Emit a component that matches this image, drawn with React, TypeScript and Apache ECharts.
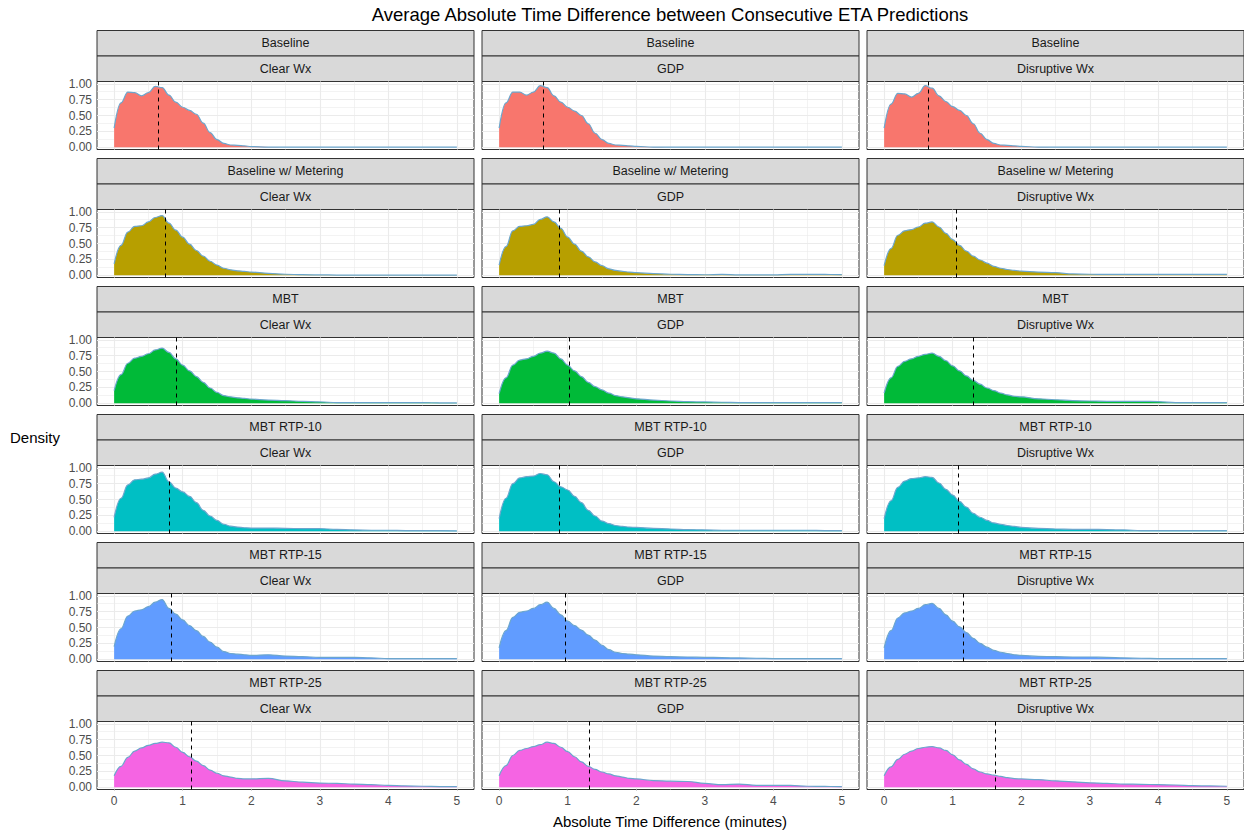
import React, { useEffect, useRef } from "react";
import * as echarts from "echarts";

// x grid (minutes)
const xs = [0, 0.1, 0.2, 0.3, 0.4, 0.5, 0.6, 0.7, 0.8, 0.9, 1.0, 1.1, 1.2, 1.3, 1.4, 1.5, 1.6, 1.7, 1.8, 1.9, 2.0, 2.25, 2.5, 2.75, 3.0, 3.25, 3.5, 3.75, 4.0, 4.25, 4.5, 4.75, 5.0];

const baselineClear = [0.30, 0.70, 0.87, 0.86, 0.81, 0.86, 0.96, 0.94, 0.82, 0.71, 0.63, 0.58, 0.52, 0.38, 0.23, 0.12, 0.06, 0.035, 0.03, 0.02, 0.01, 0.003, 0, 0, 0, 0, 0, 0, 0, 0, 0, 0, 0];
const baselineGDP = [0.30, 0.70, 0.87, 0.87, 0.82, 0.87, 0.97, 0.94, 0.81, 0.71, 0.63, 0.57, 0.50, 0.37, 0.22, 0.12, 0.06, 0.035, 0.03, 0.02, 0.012, 0.003, 0, 0, 0, 0, 0, 0, 0, 0, 0, 0, 0];
const baselineDisr = [0.30, 0.68, 0.85, 0.84, 0.79, 0.85, 0.97, 0.93, 0.81, 0.72, 0.64, 0.58, 0.50, 0.37, 0.22, 0.12, 0.06, 0.035, 0.03, 0.02, 0.012, 0.003, 0, 0, 0, 0, 0, 0, 0, 0, 0, 0, 0];

const meteringClear = [0.18, 0.47, 0.68, 0.77, 0.78, 0.84, 0.91, 0.94, 0.82, 0.71, 0.60, 0.49, 0.39, 0.30, 0.22, 0.16, 0.11, 0.085, 0.07, 0.06, 0.05, 0.03, 0.015, 0.008, 0.005, 0.003, 0.002, 0.002, 0.002, 0.002, 0.002, 0.002, 0.002];
const meteringGDP = [0.16, 0.45, 0.70, 0.77, 0.78, 0.80, 0.88, 0.92, 0.84, 0.74, 0.60, 0.49, 0.38, 0.29, 0.21, 0.15, 0.10, 0.075, 0.06, 0.05, 0.04, 0.025, 0.015, 0.01, 0.007, 0.013, 0.005, 0.004, 0.005, 0.012, 0.012, 0.012, 0.01];
const meteringDisr = [0.15, 0.42, 0.63, 0.70, 0.72, 0.76, 0.82, 0.84, 0.76, 0.66, 0.56, 0.47, 0.38, 0.30, 0.24, 0.19, 0.14, 0.11, 0.09, 0.075, 0.065, 0.05, 0.04, 0.02, 0.015, 0.012, 0.012, 0.012, 0.012, 0.012, 0.012, 0.012, 0.012];

const mbtClear = [0.20, 0.45, 0.63, 0.71, 0.74, 0.78, 0.84, 0.87, 0.80, 0.70, 0.60, 0.51, 0.42, 0.33, 0.24, 0.17, 0.12, 0.10, 0.085, 0.075, 0.065, 0.05, 0.04, 0.03, 0.02, 0.01, 0.01, 0.01, 0.01, 0.01, 0.01, 0.005, 0.005];
const mbtGDP = [0.15, 0.40, 0.60, 0.68, 0.70, 0.74, 0.79, 0.82, 0.79, 0.70, 0.60, 0.51, 0.42, 0.33, 0.26, 0.21, 0.16, 0.12, 0.10, 0.085, 0.07, 0.05, 0.035, 0.025, 0.02, 0.015, 0.01, 0.01, 0.01, 0.01, 0.01, 0.01, 0.01];
const mbtDisr = [0.16, 0.40, 0.58, 0.66, 0.70, 0.74, 0.77, 0.79, 0.74, 0.67, 0.59, 0.51, 0.43, 0.36, 0.30, 0.24, 0.20, 0.16, 0.13, 0.11, 0.10, 0.07, 0.055, 0.04, 0.035, 0.03, 0.03, 0.03, 0.025, 0.01, 0.01, 0.01, 0.01];

const rtp10Clear = [0.22, 0.52, 0.73, 0.81, 0.82, 0.84, 0.90, 0.93, 0.78, 0.68, 0.62, 0.55, 0.45, 0.33, 0.24, 0.17, 0.11, 0.08, 0.065, 0.055, 0.05, 0.05, 0.045, 0.04, 0.04, 0.03, 0.02, 0.015, 0.015, 0.01, 0.01, 0.01, 0.005];
const rtp10GDP = [0.20, 0.52, 0.75, 0.84, 0.86, 0.87, 0.91, 0.89, 0.78, 0.70, 0.65, 0.55, 0.45, 0.33, 0.24, 0.16, 0.12, 0.09, 0.075, 0.065, 0.06, 0.045, 0.035, 0.026, 0.02, 0.015, 0.015, 0.015, 0.015, 0.015, 0.015, 0.01, 0.01];
const rtp10Disr = [0.20, 0.48, 0.69, 0.79, 0.83, 0.84, 0.86, 0.85, 0.76, 0.66, 0.57, 0.47, 0.38, 0.28, 0.22, 0.17, 0.13, 0.11, 0.09, 0.075, 0.06, 0.045, 0.035, 0.03, 0.03, 0.025, 0.02, 0.01, 0.01, 0.01, 0.01, 0.01, 0.01];

const rtp15Clear = [0.20, 0.48, 0.68, 0.76, 0.78, 0.83, 0.90, 0.94, 0.80, 0.71, 0.62, 0.53, 0.45, 0.36, 0.27, 0.19, 0.12, 0.09, 0.08, 0.07, 0.06, 0.07, 0.05, 0.04, 0.03, 0.03, 0.03, 0.02, 0.01, 0.01, 0.01, 0.01, 0.01];
const rtp15GDP = [0.18, 0.45, 0.66, 0.74, 0.76, 0.80, 0.86, 0.90, 0.80, 0.70, 0.60, 0.53, 0.46, 0.38, 0.30, 0.22, 0.15, 0.11, 0.09, 0.08, 0.07, 0.05, 0.04, 0.035, 0.03, 0.025, 0.02, 0.015, 0.01, 0.01, 0.01, 0.01, 0.01];
const rtp15Disr = [0.18, 0.45, 0.65, 0.73, 0.76, 0.80, 0.86, 0.88, 0.80, 0.70, 0.60, 0.51, 0.42, 0.33, 0.25, 0.19, 0.14, 0.11, 0.09, 0.07, 0.06, 0.045, 0.04, 0.035, 0.035, 0.03, 0.02, 0.015, 0.01, 0.01, 0.01, 0.01, 0.01];

const rtp25Clear = [0.18, 0.33, 0.47, 0.57, 0.62, 0.66, 0.69, 0.71, 0.70, 0.63, 0.55, 0.48, 0.41, 0.34, 0.27, 0.22, 0.18, 0.16, 0.14, 0.13, 0.13, 0.14, 0.10, 0.08, 0.065, 0.06, 0.05, 0.04, 0.03, 0.02, 0.015, 0.01, 0.01];
const rtp25GDP = [0.18, 0.34, 0.50, 0.58, 0.61, 0.64, 0.67, 0.71, 0.69, 0.63, 0.56, 0.48, 0.40, 0.33, 0.28, 0.24, 0.21, 0.18, 0.16, 0.14, 0.13, 0.105, 0.095, 0.09, 0.06, 0.04, 0.05, 0.03, 0.03, 0.03, 0.015, 0.012, 0.01];
const rtp25Disr = [0.18, 0.32, 0.44, 0.52, 0.57, 0.61, 0.63, 0.64, 0.62, 0.58, 0.51, 0.43, 0.36, 0.29, 0.24, 0.21, 0.19, 0.17, 0.15, 0.135, 0.13, 0.12, 0.10, 0.085, 0.07, 0.06, 0.05, 0.045, 0.04, 0.035, 0.025, 0.02, 0.015];

const rowLabels = ["Baseline", "Baseline w/ Metering", "MBT", "MBT RTP-10", "MBT RTP-15", "MBT RTP-25"];
const colLabels = ["Clear Wx", "GDP", "Disruptive Wx"];
const densities = [
  [baselineClear, baselineGDP, baselineDisr],
  [meteringClear, meteringGDP, meteringDisr],
  [mbtClear, mbtGDP, mbtDisr],
  [rtp10Clear, rtp10GDP, rtp10Disr],
  [rtp15Clear, rtp15GDP, rtp15Disr],
  [rtp25Clear, rtp25GDP, rtp25Disr],
];
const means = [
  [0.65, 0.64, 0.645],
  [0.75, 0.87, 1.05],
  [0.90, 1.02, 1.30],
  [0.81, 0.87, 1.08],
  [0.84, 0.96, 1.16],
  [1.12, 1.31, 1.62],
];
const fillColors = ["#F8766D", "#B79F00", "#00BA38", "#00BFC4", "#619CFF", "#F564E3"];
const xTicks = [0, 1, 2, 3, 4, 5];
const xMinor = [0.5, 1.5, 2.5, 3.5, 4.5];
const yTicks = [0, 0.25, 0.5, 0.75, 1];
const yMinor = [0.125, 0.375, 0.625, 0.875];

const FONT = "'Liberation Sans', Arial, sans-serif";

export default function App() {
  const ref = useRef<HTMLDivElement>(null);
  useEffect(() => {
    document.body.style.margin = "0";
    const chart = echarts.init(ref.current!, null, { renderer: "svg" });
    const colLeft = [97, 482, 867];
    const panelW = 377;
    const stripH = 25.5;
    const plotH = 68;
    const rowTop = (r: number) => 30.5 + r * 128;

    const grids: any[] = [];
    const xAxes: any[] = [];
    const yAxes: any[] = [];
    const series: any[] = [];
    const graphics: any[] = [];

    for (let r = 0; r < 6; r++) {
      for (let c = 0; c < 3; c++) {
        const p = r * 3 + c;
        const T = rowTop(r);
        const L = colLeft[c];
        grids.push({
          left: L, top: T + 2 * stripH, width: panelW, height: plotH,
          show: true, borderColor: "#333333", borderWidth: 1, backgroundColor: "#ffffff",
        });
        xAxes.push({
          type: "value", gridIndex: p, min: -0.25, max: 5.25,
          axisLine: { show: false },
          splitLine: { show: false },
          axisTick: { show: r === 5, customValues: xTicks, length: 3, lineStyle: { color: "#333333" } },
          axisLabel: {
            show: r === 5, customValues: xTicks, color: "#4d4d4d", fontSize: 12, fontFamily: FONT, margin: 5,
            formatter: (v: number) => String(v),
          },
        });
        yAxes.push({
          type: "value", gridIndex: p, min: -0.036, max: 1.036,
          axisLine: { show: false },
          splitLine: { show: false },
          axisTick: { show: c === 0, customValues: yTicks, length: 3, lineStyle: { color: "#333333" } },
          axisLabel: {
            show: c === 0, customValues: yTicks, color: "#4d4d4d", fontSize: 12, fontFamily: FONT, margin: 5,
            formatter: (v: number) => v.toFixed(2),
          },
        });
        const data = xs.map((x, i) => [x, densities[r][c][i]]);
        const gridData: any[] = [];
        xTicks.forEach((v) => gridData.push({ xAxis: v, lineStyle: { width: 1.1 } }));
        xMinor.forEach((v) => gridData.push({ xAxis: v, lineStyle: { width: 0.6 } }));
        yTicks.forEach((v) => gridData.push({ yAxis: v, lineStyle: { width: 1.1 } }));
        yMinor.forEach((v) => gridData.push({ yAxis: v, lineStyle: { width: 0.6 } }));
        series.push({
          type: "line", xAxisIndex: p, yAxisIndex: p, data, z: 1, silent: true,
          showSymbol: false, lineStyle: { opacity: 0 },
          markLine: {
            z: 1, silent: true, symbol: ["none", "none"], label: { show: false },
            lineStyle: { color: "#ebebeb", type: "solid" },
            data: gridData,
          },
        });
        series.push({
          type: "line", xAxisIndex: p, yAxisIndex: p, data, z: 3, silent: true,
          showSymbol: false, smooth: 0.4, smoothMonotone: "x",
          lineStyle: { color: "#6CA6CD", width: 1.2 },
          areaStyle: { color: fillColors[r], opacity: 1 },
          markLine: {
            z: 5, silent: true, symbol: ["none", "none"], label: { show: false },
            lineStyle: { color: "#000000", type: [4, 4], width: 1 },
            data: [{ xAxis: means[r][c] }],
          },
        });
        // strips
        graphics.push({
          type: "rect", shape: { x: L, y: T, width: panelW, height: stripH },
          style: { fill: "#d9d9d9", stroke: "#333333", lineWidth: 1 },
        });
        graphics.push({
          type: "rect", shape: { x: L, y: T + stripH, width: panelW, height: stripH },
          style: { fill: "#d9d9d9", stroke: "#333333", lineWidth: 1 },
        });
        graphics.push({
          type: "text", x: L + panelW / 2, y: T + stripH / 2,
          style: { text: rowLabels[r], fill: "#1a1a1a", font: `12.5px ${FONT}`, align: "center", verticalAlign: "middle" },
        });
        graphics.push({
          type: "text", x: L + panelW / 2, y: T + stripH * 1.5,
          style: { text: colLabels[c], fill: "#1a1a1a", font: `12.5px ${FONT}`, align: "center", verticalAlign: "middle" },
        });
      }
    }
    graphics.push({
      type: "text", x: 670, y: 14,
      style: { text: "Average Absolute Time Difference between Consecutive ETA Predictions", fill: "#000", font: `18.5px ${FONT}`, align: "center", verticalAlign: "middle" },
    });
    graphics.push({
      type: "text", x: 670, y: 821,
      style: { text: "Absolute Time Difference (minutes)", fill: "#000", font: `15px ${FONT}`, align: "center", verticalAlign: "middle" },
    });
    graphics.push({
      type: "text", x: 10, y: 437,
      style: { text: "Density", fill: "#000", font: `15px ${FONT}`, align: "left", verticalAlign: "middle" },
    });

    chart.setOption({
      animation: false,
      backgroundColor: "#ffffff",
      grid: grids,
      xAxis: xAxes,
      yAxis: yAxes,
      series,
      graphic: { elements: graphics },
    });
    return () => chart.dispose();
  }, []);
  return <div ref={ref} style={{ width: 1244, height: 833 }} />;
}
